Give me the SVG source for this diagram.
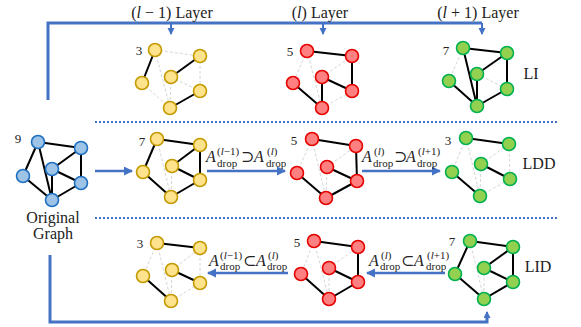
<svg xmlns="http://www.w3.org/2000/svg" width="581" height="327" viewBox="0 0 581 327" font-family="'Liberation Serif','DejaVu Serif',serif">
<defs>
<style>
text{font-family:"Liberation Serif","DejaVu Serif",serif;fill:#222}
.k{stroke:#000;stroke-width:2;fill:none}
.g{stroke:#d6d6d6;stroke-width:1;stroke-dasharray:3 2;fill:none}
.y circle{fill:#FFE28C;stroke:#C39B00;stroke-width:1.6}
.r circle{fill:#FF8080;stroke:#E50000;stroke-width:1.6}
.gr circle{fill:#92D050;stroke:#00B050;stroke-width:1.6}
.b circle{fill:#9DC3E6;stroke:#1F70C0;stroke-width:1.6}
.fr{stroke:#4472C4;stroke-width:3;fill:none}
.ar{stroke:#4472C4;stroke-width:2.5;fill:none;marker-end:url(#ah)}
.sm{stroke:#4472C4;stroke-width:2;fill:none;marker-end:url(#ahs)}
.dot{stroke:#4472C4;stroke-width:2;stroke-dasharray:2 2;fill:none}
.n{font-size:13px}
.lb{font-size:16px}
.m{font-size:16px;font-style:italic}
.s{font-size:11px;font-style:normal}
.o{font-style:normal}
.i{font-style:italic}
</style>
<marker id="ah" markerUnits="userSpaceOnUse" markerWidth="10" markerHeight="10" refX="8" refY="4.5" orient="auto"><path d="M0,0 L9,4.5 L0,9 Z" fill="#4472C4"/></marker>
<marker id="ahs" markerUnits="userSpaceOnUse" markerWidth="8" markerHeight="8" refX="6" refY="3.5" orient="auto"><path d="M0,0 L7,3.5 L0,7 Z" fill="#4472C4"/></marker>
</defs>
<rect width="581" height="327" fill="#fff"/>

<g id="connectors">
<path class="fr" d="M48,100 V23 H482"/>
<path class="sm" d="M171,23 V34"/>
<path class="sm" d="M323,23 V34"/>
<path class="sm" d="M482,23 V34"/>
<path class="fr" d="M50,255 V322 H487 V318"/>
<path class="sm" d="M487,322 V312"/>
<line class="dot" x1="95" y1="122" x2="557" y2="122"/>
<line class="dot" x1="95" y1="218" x2="557" y2="218"/>
<line class="ar" x1="95" y1="171" x2="132" y2="171"/>
<line class="ar" x1="207" y1="171" x2="285" y2="171"/>
<line class="ar" x1="362" y1="171" x2="440" y2="171"/>
<line class="ar" x1="288" y1="273" x2="208" y2="273"/>
<line class="ar" x1="445" y1="273" x2="367" y2="273"/>
</g>

<g id="headers">
<text class="lb" x="172" y="18" text-anchor="middle">(<tspan class="i">l</tspan> − 1) Layer</text>
<text class="lb" x="320" y="18" text-anchor="middle">(<tspan class="i">l</tspan>) Layer</text>
<text class="lb" x="478" y="18" text-anchor="middle">(<tspan class="i">l</tspan> + 1) Layer</text>
</g>

<g id="original" class="b">
<line class="k" x1="38" y1="142" x2="81" y2="148"/>
<line class="k" x1="38" y1="142" x2="23" y2="176"/>
<line class="k" x1="38" y1="142" x2="52" y2="200"/>
<line class="k" x1="81" y1="148" x2="52" y2="169"/>
<line class="k" x1="81" y1="148" x2="81" y2="183"/>
<line class="k" x1="52" y1="169" x2="81" y2="183"/>
<line class="k" x1="52" y1="169" x2="52" y2="200"/>
<line class="k" x1="23" y1="176" x2="52" y2="200"/>
<line class="k" x1="81" y1="183" x2="52" y2="200"/>
<circle cx="38" cy="142" r="6.5"/><circle cx="81" cy="148" r="6.5"/><circle cx="23" cy="176" r="6.5"/>
<circle cx="52" cy="169" r="6.5"/><circle cx="81" cy="183" r="6.5"/><circle cx="52" cy="200" r="6.5"/>
<text class="n" x="18" y="143" text-anchor="middle">9</text>
<text class="lb" x="53" y="223" text-anchor="middle">Original</text>
<text class="lb" x="53" y="239" text-anchor="middle">Graph</text>
</g>

<g id="li_yellow" class="y">
<line class="g" x1="155" y1="50" x2="200" y2="56"/>
<line class="g" x1="155" y1="50" x2="170" y2="108"/>
<line class="g" x1="200" y1="56" x2="200" y2="91"/>
<line class="g" x1="171" y1="77" x2="200" y2="91"/>
<line class="g" x1="171" y1="77" x2="170" y2="108"/>
<line class="g" x1="142" y1="83" x2="170" y2="108"/>
<line class="k" x1="155" y1="50" x2="142" y2="83"/>
<line class="k" x1="171" y1="77" x2="200" y2="56"/>
<line class="k" x1="170" y1="108" x2="200" y2="91"/>
<circle cx="155" cy="50" r="6.5"/><circle cx="200" cy="56" r="6.5"/><circle cx="142" cy="83" r="6.5"/>
<circle cx="171" cy="77" r="6.5"/><circle cx="200" cy="91" r="6.5"/><circle cx="170" cy="108" r="6.5"/>
<text class="n" x="139" y="55" text-anchor="middle">3</text>
</g>

<g id="li_red" class="r">
<line class="g" x1="307" y1="51" x2="293" y2="83"/>
<line class="g" x1="307" y1="51" x2="322" y2="108"/>
<line class="g" x1="322" y1="77" x2="352" y2="56"/>
<line class="g" x1="322" y1="108" x2="352" y2="91"/>
<line class="k" x1="307" y1="51" x2="352" y2="56"/>
<line class="k" x1="352" y1="56" x2="352" y2="91"/>
<line class="k" x1="322" y1="77" x2="322" y2="108"/>
<line class="k" x1="322" y1="77" x2="352" y2="91"/>
<line class="k" x1="293" y1="83" x2="322" y2="108"/>
<circle cx="307" cy="51" r="6.5"/><circle cx="352" cy="56" r="6.5"/><circle cx="293" cy="83" r="6.5"/>
<circle cx="322" cy="77" r="6.5"/><circle cx="352" cy="91" r="6.5"/><circle cx="322" cy="108" r="6.5"/>
<text class="n" x="290" y="56" text-anchor="middle">5</text>
</g>

<g id="li_green" class="gr">
<line class="g" x1="463" y1="48" x2="449" y2="81"/>
<line class="g" x1="477" y1="74" x2="507" y2="89"/>
<line class="k" x1="463" y1="48" x2="507" y2="53"/>
<line class="k" x1="463" y1="48" x2="477" y2="106"/>
<line class="k" x1="507" y1="53" x2="477" y2="74"/>
<line class="k" x1="507" y1="53" x2="507" y2="89"/>
<line class="k" x1="477" y1="74" x2="477" y2="106"/>
<line class="k" x1="507" y1="89" x2="477" y2="106"/>
<line class="k" x1="449" y1="81" x2="477" y2="106"/>
<circle cx="463" cy="48" r="6.5"/><circle cx="507" cy="53" r="6.5"/><circle cx="449" cy="81" r="6.5"/>
<circle cx="477" cy="74" r="6.5"/><circle cx="507" cy="89" r="6.5"/><circle cx="477" cy="106" r="6.5"/>
<text class="n" x="446" y="55" text-anchor="middle">7</text>
<text class="lb" x="531" y="79" text-anchor="middle">LI</text>
</g>

<g id="ldd_yellow" class="y">
<line class="g" x1="157" y1="139" x2="171" y2="197"/>
<line class="g" x1="172" y1="166" x2="171" y2="197"/>
<line class="k" x1="157" y1="139" x2="200" y2="145"/>
<line class="k" x1="157" y1="139" x2="143" y2="172"/>
<line class="k" x1="200" y1="145" x2="172" y2="166"/>
<line class="k" x1="200" y1="145" x2="200" y2="180"/>
<line class="k" x1="172" y1="166" x2="200" y2="180"/>
<line class="k" x1="143" y1="172" x2="171" y2="197"/>
<line class="k" x1="200" y1="180" x2="171" y2="197"/>
<circle cx="157" cy="139" r="6.5"/><circle cx="200" cy="145" r="6.5"/><circle cx="143" cy="172" r="6.5"/>
<circle cx="172" cy="166" r="6.5"/><circle cx="200" cy="180" r="6.5"/><circle cx="171" cy="197" r="6.5"/>
<text class="n" x="142" y="146" text-anchor="middle">7</text>
</g>

<g id="ldd_red" class="r">
<line class="g" x1="312" y1="139" x2="297" y2="173"/>
<line class="g" x1="312" y1="139" x2="326" y2="198"/>
<line class="g" x1="327" y1="167" x2="356" y2="146"/>
<line class="g" x1="327" y1="167" x2="326" y2="198"/>
<line class="k" x1="312" y1="139" x2="356" y2="146"/>
<line class="k" x1="356" y1="146" x2="357" y2="181"/>
<line class="k" x1="327" y1="167" x2="357" y2="181"/>
<line class="k" x1="297" y1="173" x2="326" y2="198"/>
<line class="k" x1="326" y1="198" x2="357" y2="181"/>
<circle cx="312" cy="139" r="6.5"/><circle cx="356" cy="146" r="6.5"/><circle cx="297" cy="173" r="6.5"/>
<circle cx="327" cy="167" r="6.5"/><circle cx="357" cy="181" r="6.5"/><circle cx="326" cy="198" r="6.5"/>
<text class="n" x="294" y="145" text-anchor="middle">5</text>
</g>

<g id="ldd_green" class="gr">
<line class="g" x1="466" y1="138" x2="452" y2="172"/>
<line class="g" x1="466" y1="138" x2="480" y2="196"/>
<line class="g" x1="481" y1="164" x2="509" y2="144"/>
<line class="g" x1="509" y1="144" x2="510" y2="179"/>
<line class="g" x1="481" y1="164" x2="480" y2="196"/>
<line class="g" x1="480" y1="196" x2="510" y2="179"/>
<line class="k" x1="466" y1="138" x2="509" y2="144"/>
<line class="k" x1="481" y1="164" x2="510" y2="179"/>
<line class="k" x1="452" y1="172" x2="480" y2="196"/>
<circle cx="466" cy="138" r="6.5"/><circle cx="509" cy="144" r="6.5"/><circle cx="452" cy="172" r="6.5"/>
<circle cx="481" cy="164" r="6.5"/><circle cx="510" cy="179" r="6.5"/><circle cx="480" cy="196" r="6.5"/>
<text class="n" x="448" y="145" text-anchor="middle">3</text>
<text class="lb" x="539" y="169" text-anchor="middle">LDD</text>
</g>

<g id="lid_yellow" class="y">
<line class="g" x1="157" y1="243" x2="143" y2="276"/>
<line class="g" x1="157" y1="243" x2="171" y2="301"/>
<line class="g" x1="172" y1="270" x2="200" y2="248"/>
<line class="g" x1="200" y1="248" x2="200" y2="283"/>
<line class="g" x1="172" y1="270" x2="171" y2="301"/>
<line class="g" x1="171" y1="301" x2="200" y2="283"/>
<line class="k" x1="157" y1="243" x2="200" y2="248"/>
<line class="k" x1="172" y1="270" x2="200" y2="283"/>
<line class="k" x1="143" y1="276" x2="171" y2="301"/>
<circle cx="157" cy="243" r="6.5"/><circle cx="200" cy="248" r="6.5"/><circle cx="143" cy="276" r="6.5"/>
<circle cx="172" cy="270" r="6.5"/><circle cx="200" cy="283" r="6.5"/><circle cx="171" cy="301" r="6.5"/>
<text class="n" x="140" y="248" text-anchor="middle">3</text>
</g>

<g id="lid_red" class="r">
<line class="g" x1="314" y1="241" x2="301" y2="274"/>
<line class="g" x1="314" y1="241" x2="329" y2="299"/>
<line class="g" x1="329" y1="268" x2="358" y2="247"/>
<line class="g" x1="329" y1="268" x2="329" y2="299"/>
<line class="k" x1="314" y1="241" x2="358" y2="247"/>
<line class="k" x1="358" y1="247" x2="358" y2="282"/>
<line class="k" x1="329" y1="268" x2="358" y2="282"/>
<line class="k" x1="301" y1="274" x2="329" y2="299"/>
<line class="k" x1="329" y1="299" x2="358" y2="282"/>
<circle cx="314" cy="241" r="6.5"/><circle cx="358" cy="247" r="6.5"/><circle cx="301" cy="274" r="6.5"/>
<circle cx="329" cy="268" r="6.5"/><circle cx="358" cy="282" r="6.5"/><circle cx="329" cy="299" r="6.5"/>
<text class="n" x="297" y="247" text-anchor="middle">5</text>
</g>

<g id="lid_green" class="gr">
<line class="g" x1="470" y1="241" x2="484" y2="299"/>
<line class="g" x1="484" y1="268" x2="484" y2="299"/>
<line class="k" x1="470" y1="241" x2="513" y2="247"/>
<line class="k" x1="470" y1="241" x2="455" y2="274"/>
<line class="k" x1="513" y1="247" x2="484" y2="268"/>
<line class="k" x1="513" y1="247" x2="513" y2="282"/>
<line class="k" x1="484" y1="268" x2="513" y2="282"/>
<line class="k" x1="455" y1="274" x2="484" y2="299"/>
<line class="k" x1="513" y1="282" x2="484" y2="299"/>
<circle cx="470" cy="241" r="6.5"/><circle cx="513" cy="247" r="6.5"/><circle cx="455" cy="274" r="6.5"/>
<circle cx="484" cy="268" r="6.5"/><circle cx="513" cy="282" r="6.5"/><circle cx="484" cy="299" r="6.5"/>
<text class="n" x="452" y="246" text-anchor="middle">7</text>
<text class="lb" x="538" y="272" text-anchor="middle">LID</text>
</g>

<g id="labels">
<text class="m"><tspan x="206" y="162">A</tspan><tspan class="s" x="217" y="155">(<tspan class="i">l</tspan>−1)</tspan><tspan class="s" x="217" y="167">drop</tspan><tspan class="o" x="241" y="162">⊃</tspan><tspan x="254" y="162">A</tspan><tspan class="s" x="267" y="155">(<tspan class="i">l</tspan>)</tspan><tspan class="s" x="266" y="167">drop</tspan></text>
<text class="m"><tspan x="362" y="162">A</tspan><tspan class="s" x="374" y="155">(<tspan class="i">l</tspan>)</tspan><tspan class="s" x="373" y="167">drop</tspan><tspan class="o" x="394" y="162">⊃</tspan><tspan x="406" y="162">A</tspan><tspan class="s" x="418" y="155">(<tspan class="i">l</tspan>+1)</tspan><tspan class="s" x="417" y="167">drop</tspan></text>
<text class="m"><tspan x="209" y="266">A</tspan><tspan class="s" x="220" y="259">(<tspan class="i">l</tspan>−1)</tspan><tspan class="s" x="220" y="270">drop</tspan><tspan class="o" x="243" y="266">⊂</tspan><tspan x="256" y="266">A</tspan><tspan class="s" x="268" y="259">(<tspan class="i">l</tspan>)</tspan><tspan class="s" x="267" y="270">drop</tspan></text>
<text class="m"><tspan x="369" y="266">A</tspan><tspan class="s" x="381" y="259">(<tspan class="i">l</tspan>)</tspan><tspan class="s" x="380" y="270">drop</tspan><tspan class="o" x="401" y="266">⊂</tspan><tspan x="414" y="266">A</tspan><tspan class="s" x="427" y="259">(<tspan class="i">l</tspan>+1)</tspan><tspan class="s" x="426" y="270">drop</tspan></text>
</g>
</svg>
